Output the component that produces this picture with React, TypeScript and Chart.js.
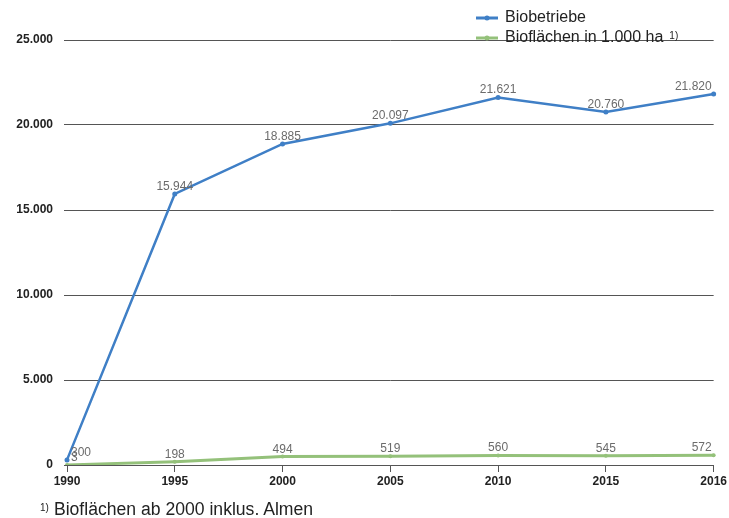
import React, { useEffect, useRef } from "react";
import { Chart, registerables } from "chart.js";

Chart.register(...registerables);

const years = ["1990", "1995", "2000", "2005", "2010", "2015", "2016"];
const biobetriebe = [300, 15944, 18885, 20097, 21621, 20760, 21820];
const bioflaechen = [3, 198, 494, 519, 560, 545, 572];
const yTicks = [0, 5000, 10000, 15000, 20000, 25000];
const seriesNames = ["Biobetriebe", "Bioflächen in 1.000 ha"];
const footnote = "Bioflächen ab 2000 inklus. Almen";

const BLUE = "#3f7fc6";
const GREEN = "#94c17a";
const FONT = "'Liberation Sans', Arial, sans-serif";

function fmt(v: number): string {
  return String(Math.round(v)).replace(/\B(?=(\d{3})+(?!\d))/g, ".");
}

const labelPlugin = {
  id: "valueLabels",
  afterDatasetsDraw(chart: any) {
    const ctx = chart.ctx;
    const area = chart.chartArea;
    ctx.save();
    ctx.font = `12px ${FONT}`;
    ctx.fillStyle = "#6b6b6b";
    ctx.textBaseline = "alphabetic";
    chart.data.datasets.forEach((ds: any, di: number) => {
      const meta = chart.getDatasetMeta(di);
      meta.data.forEach((pt: any, i: number) => {
        const txt = fmt(ds.data[i]);
        const w = ctx.measureText(txt).width;
        let x = pt.x - w / 2;
        if (x < area.left + 4) x = area.left + 4;
        if (x + w > area.right - 2) x = area.right - 2 - w;
        ctx.fillText(txt, x, pt.y - 4);
      });
    });
    ctx.restore();
  },
};

const legendPlugin = {
  id: "customLegend",
  afterDraw(chart: any) {
    const ctx = chart.ctx;
    ctx.save();
    const items = [
      { name: seriesNames[0], color: BLUE, y: 18, sup: "" },
      { name: seriesNames[1], color: GREEN, y: 38, sup: "1)" },
    ];
    items.forEach((it) => {
      ctx.strokeStyle = it.color;
      ctx.lineWidth = 3;
      ctx.beginPath();
      ctx.moveTo(476, it.y);
      ctx.lineTo(498, it.y);
      ctx.stroke();
      ctx.fillStyle = it.color;
      ctx.beginPath();
      ctx.arc(487, it.y, 2.5, 0, Math.PI * 2);
      ctx.fill();
      ctx.fillStyle = "#222";
      ctx.font = `16px ${FONT}`;
      ctx.textBaseline = "middle";
      ctx.fillText(it.name, 505, it.y);
      if (it.sup) {
        const w = ctx.measureText(it.name).width;
        ctx.font = `10px ${FONT}`;
        ctx.fillText(it.sup, 505 + w + 6, it.y - 2);
      }
    });
    ctx.restore();
  },
};

export default function App() {
  const ref = useRef<HTMLCanvasElement | null>(null);
  useEffect(() => {
    if (!ref.current) return;
    const chart = new Chart(ref.current, {
      type: "line",
      data: {
        labels: years,
        datasets: [
          {
            label: seriesNames[0],
            data: biobetriebe,
            borderColor: BLUE,
            backgroundColor: BLUE,
            borderWidth: 2.5,
            pointRadius: 2.5,
            pointBorderWidth: 0,
            tension: 0,
          },
          {
            label: seriesNames[1],
            data: bioflaechen,
            borderColor: GREEN,
            backgroundColor: GREEN,
            borderWidth: 3,
            pointRadius: 2,
            pointBorderWidth: 0,
            tension: 0,
          },
        ],
      },
      options: {
        animation: false,
        responsive: true,
        maintainAspectRatio: false,
        layout: { padding: { left: 0, right: 14, top: 40, bottom: 0 } },
        plugins: { legend: { display: false }, tooltip: { enabled: false } },
        scales: {
          x: {
            offset: false,
            afterFit: (s: any) => {
              s.height = 53;
            },
            grid: {
              drawOnChartArea: false,
              drawTicks: true,
              tickLength: 7,
              color: "#555",
            },
            border: { display: true, color: "#555" },
            ticks: {
              color: "#222",
              font: { family: FONT, size: 12, weight: "bold" },
              padding: 2,
              maxRotation: 0,
            },
          },
          y: {
            min: 0,
            max: 25000,
            afterFit: (s: any) => {
              s.width = 67;
            },
            afterBuildTicks: (s: any) => {
              s.ticks = yTicks.map((v) => ({ value: v }));
            },
            grid: { color: "#555", drawTicks: true, tickLength: 3, lineWidth: 1 },
            border: { display: false },
            ticks: {
              color: "#222",
              font: { family: FONT, size: 12, weight: "bold" },
              padding: 11,
              callback: (v: any) => fmt(Number(v)),
            },
          },
        },
      },
      plugins: [labelPlugin, legendPlugin],
    });
    return () => chart.destroy();
  }, []);

  return (
    <div style={{ position: "fixed", left: 0, top: 0, width: 729, height: 518, background: "#fff" }}>
      <canvas ref={ref} />
      <div
        style={{
          position: "absolute",
          left: 40,
          top: 497,
          fontFamily: FONT,
          fontSize: 17.6,
          lineHeight: "22px",
          color: "#222",
          whiteSpace: "nowrap",
        }}
      >
        <span style={{ fontSize: 10, verticalAlign: "4px", marginRight: 5 }}>1)</span>
        {footnote}
      </div>
    </div>
  );
}
